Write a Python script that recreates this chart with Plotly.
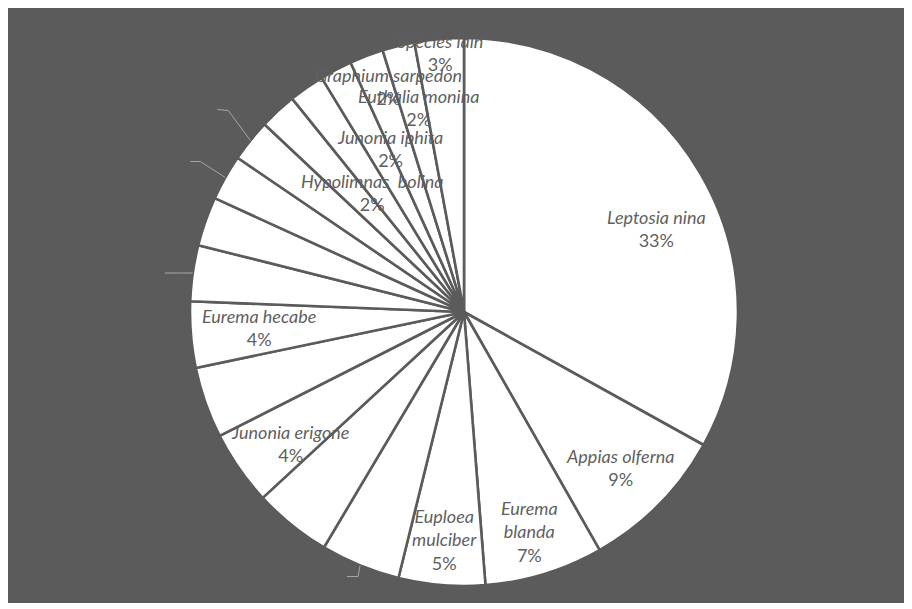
import math
import plotly.graph_objects as go

# ---------------- data ----------------
species = ["Leptosia nina", "Appias olferna", "Eurema<br>blanda", "Euploea<br>mulciber",
           "", "", "Junonia erigone", "", "Eurema hecabe", "", "", "", "",
           "Hypolimnas  bolina", "", "Junonia iphita", "Graphium sarpedon",
           "Euthalia monina", "Species lain"]
share = [33.1, 8.7, 7.0, 5.1, 4.7, 4.6, 4.4, 4.2, 3.9, 3.3, 2.9, 2.7, 2.5,
         2.2, 2.1, 1.9, 2.0, 1.9, 2.9]

# ---------------- styles / layout ----------------
W, H = 897, 595
ML, MR, MT, MB = 15, 0, 30, 17
BG = "#5b5b5b"
TXT = "#5f5f5f"
# label placement (radial fraction, angle offset in deg from slice middle)
label_pos = {0: (0.765, 6.9), 1: (0.805, 0.0), 2: (0.834, 0.5), 3: (0.835, 0.1),
             6: (0.795, -2.2), 8: (0.75, 0.4), 13: (0.55, 5.5), 15: (0.657, 3.5),
             16: (0.869, 2.4), 17: (0.763, 1.4), 18: (0.953, -0.1)}
# leader line styling: offsets (px) of elbow and end from slice edge point
leaders = {12: [(-22, -30), (-33, -31)], 11: [(-25, -16), (-35, -16)],
           9: [(-14, 0), (-28, 0)], 4: [(-2, 11), (-13, 11)]}

pw, ph = W - ML - MR, H - MT - MB
cx, cy = ML + pw / 2, MT + ph / 2
R = min(pw, ph) / 2
total = sum(share)


def to_paper(px, py):
    return (px - ML) / pw, (H - MB - py) / ph


def polar(theta_deg, r):
    t = math.radians(theta_deg)
    return cx + r * math.sin(t), cy - r * math.cos(t)


fig = go.Figure(go.Pie(
    values=share,
    sort=False,
    direction="clockwise",
    rotation=0,
    textinfo="none",
    hoverinfo="skip",
    marker=dict(colors=["#ffffff"] * len(share), line=dict(color=BG, width=2.6)),
    showlegend=False,
))

annotations = []
shapes = []

cum = 0.0
for i, v in enumerate(share):
    a0 = cum / total * 360
    cum += v
    a1 = cum / total * 360
    mid = (a0 + a1) / 2
    pct = round(v / total * 100)
    if i in label_pos and species[i]:
        rho, dth = label_pos[i]
        px, py = polar(mid + dth, rho * R)
        x, y = to_paper(px, py)
        annotations.append(dict(
            x=x, y=y, xref="paper", yref="paper", showarrow=False,
            xanchor="center", yanchor="middle",
            text=f"<i>{species[i]}</i><br>{pct}%",
            font=dict(family="Lato", size=18, color=TXT),
        ))
    if i in leaders:
        ex, ey = polar(mid, R)
        pts = [(ex, ey)] + [(ex + dx, ey + dy) for dx, dy in leaders[i]]
        path = ""
        for k, (qx, qy) in enumerate(pts):
            X, Y = to_paper(qx, qy)
            path += ("M" if k == 0 else "L") + f"{X:.5f},{Y:.5f} "
        shapes.append(dict(type="path", xref="paper", yref="paper", path=path,
                           line=dict(color="#a6a6a6", width=1)))

fig.update_layout(
    width=W, height=H,
    margin=dict(l=ML, r=MR, t=MT, b=MB, autoexpand=False),
    paper_bgcolor=BG,
    plot_bgcolor=BG,
    shapes=shapes,
    annotations=annotations,
)

fig.write_html("out.html")
